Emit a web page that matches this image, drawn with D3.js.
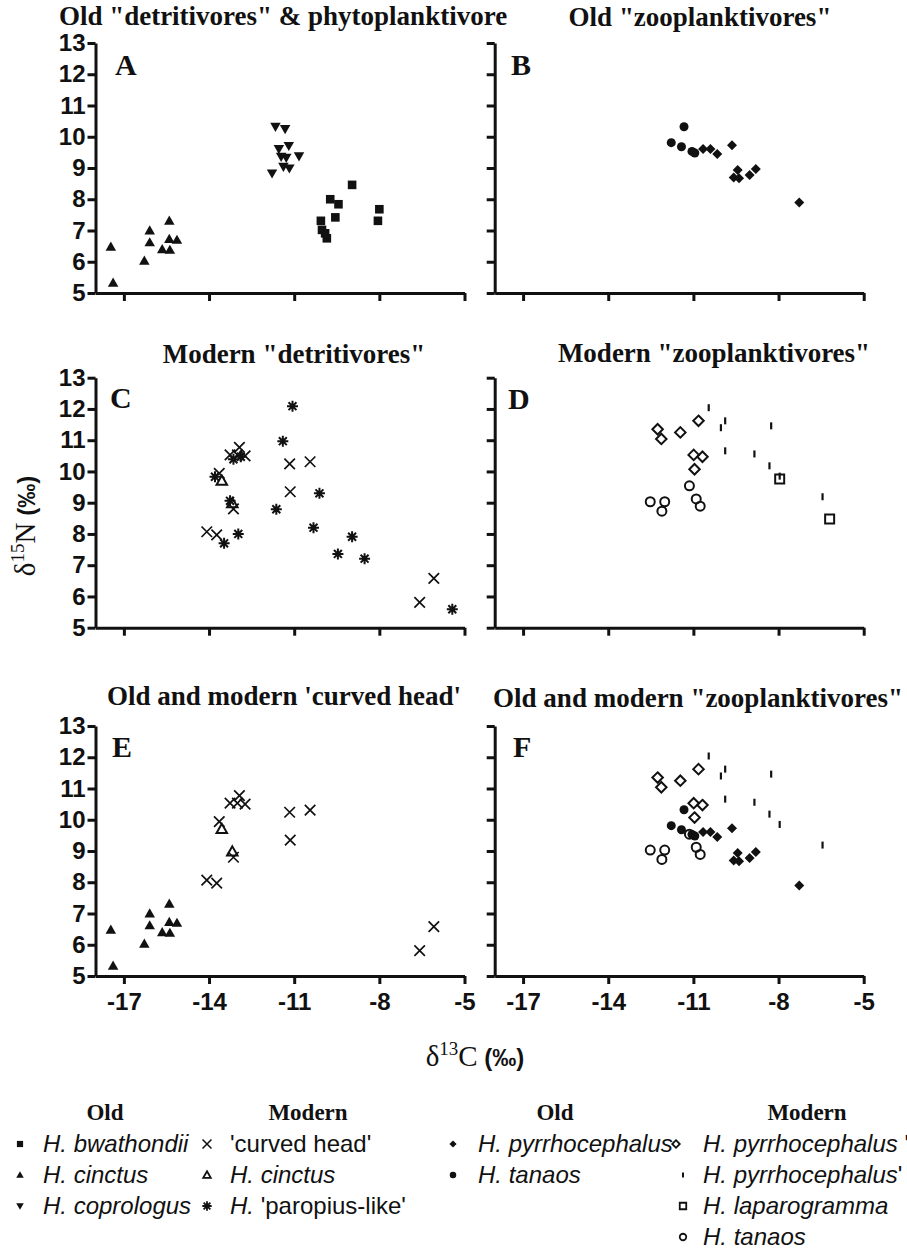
<!DOCTYPE html>
<html>
<head>
<meta charset="utf-8">
<script src="https://cdn.jsdelivr.net/npm/d3@7"></script>
<style>
body { margin: 0; background: #fff; }
.axis path, .axis line { stroke: #111; stroke-width: 3; }
.axis text { font-family: "Liberation Sans", Arial, sans-serif; font-weight: bold; font-size: 24px; fill: #111; }
.title { font-family: "Liberation Serif", "Times New Roman", serif; font-weight: bold; font-size: 27px; fill: #111; }
.letter { font-family: "Liberation Serif", "Times New Roman", serif; font-weight: bold; font-size: 30px; fill: #111; }
.leg { font-family: "Liberation Sans", Arial, sans-serif; font-size: 24px; fill: #111; }
.leghead { font-family: "Liberation Serif", "Times New Roman", serif; font-weight: bold; font-size: 23px; fill: #111; }
</style>
</head>
<body>
<svg id="fig"></svg>
<script>
// d13C, d15N pairs
const oldBwathondii = [[-10.06,7.31],[-10.02,7.02],[-9.91,6.91],[-9.85,6.75],[-9.73,8.0],[-9.44,7.84],[-9.55,7.42],[-8.96,8.46],[-8.0,7.68],[-8.05,7.31]];
const oldCinctus = [[-17.46,6.48],[-17.38,5.33],[-16.28,6.03],[-16.09,7.0],[-16.09,6.62],[-15.65,6.4],[-15.40,7.31],[-15.40,6.73],[-15.38,6.38],[-15.13,6.7]];
const oldCoprologus = [[-11.66,10.32],[-11.32,10.25],[-11.54,9.61],[-11.19,9.71],[-11.46,9.36],[-11.28,9.33],[-10.83,9.38],[-11.78,8.83],[-11.38,9.04],[-11.17,8.99]];
const oldPyrrho = [[-10.66,9.61],[-10.4,9.61],[-10.16,9.45],[-9.64,9.73],[-9.44,8.94],[-9.58,8.7],[-9.39,8.67],[-9.02,8.78],[-8.8,8.97],[-7.27,7.9]];
const oldTanaos = [[-11.33,10.32],[-11.78,9.81],[-11.42,9.68],[-11.05,9.53],[-10.95,9.48]];
const modCurved = [[-14.08,8.07],[-13.73,7.97],[-13.14,8.8],[-13.64,9.94],[-13.26,10.53],[-12.93,10.77],[-13.0,10.53],[-12.73,10.5],[-11.16,10.24],[-10.44,10.31],[-11.14,9.35],[-6.58,5.81],[-6.08,6.58]];
const modCinctus = [[-13.55,9.7],[-13.18,8.98]];
const modParopius = [[-11.06,12.09],[-11.4,10.97],[-13.79,9.83],[-13.26,9.06],[-13.14,10.39],[-12.88,10.47],[-12.97,8.0],[-13.47,7.7],[-11.63,8.79],[-10.11,9.3],[-10.32,8.2],[-9.46,7.36],[-8.96,7.91],[-8.52,7.21],[-5.43,5.59]];
const modPyrrhoA = [[-12.26,11.35],[-12.13,11.04],[-11.46,11.25],[-10.82,11.62],[-10.99,10.53],[-10.68,10.47],[-10.96,10.07]];
const modPyrrhoB = [[-10.46,12.04],[-9.88,11.62],[-10.03,11.4],[-8.26,11.46],[-9.88,10.66],[-8.85,10.56],[-8.32,10.18],[-7.96,9.85],[-6.45,9.19]];
const modLaparogramma = [[-7.96,9.76],[-6.2,8.48]];
const modTanaos = [[-11.14,9.54],[-12.52,9.03],[-12.01,9.03],[-12.11,8.73],[-10.9,9.12],[-10.76,8.89]];

const xTicks = [-17, -14, -11, -8, -5];
const yTicks = [5, 6, 7, 8, 9, 10, 11, 12, 13];

const titles = ['Old "detritivores" & phytoplanktivore', 'Old "zooplanktivores"',
  'Modern "detritivores"', 'Modern "zooplanktivores"',
  "Old and modern 'curved head'", 'Old and modern "zooplanktivores"'];
const letters = ['A', 'B', 'C', 'D', 'E', 'F'];
const panelSeries = [
  ['oldCinctus', 'oldCoprologus', 'oldBwathondii'],
  ['oldTanaos', 'oldPyrrho'],
  ['modCurved', 'modCinctus', 'modParopius'],
  ['modPyrrhoA', 'modPyrrhoB', 'modLaparogramma', 'modTanaos'],
  ['oldCinctus', 'modCurved', 'modCinctus'],
  ['oldTanaos', 'oldPyrrho', 'modPyrrhoA', 'modPyrrhoB', 'modTanaos']
];

const data = {oldBwathondii, oldCinctus, oldCoprologus, oldPyrrho, oldTanaos,
  modCurved, modCinctus, modParopius, modPyrrhoA, modPyrrhoB, modLaparogramma, modTanaos};

// custom marker shapes for d3.symbol
const shapes = {
  triUp: {draw(c, s) { const r = Math.sqrt(s) / 2; c.moveTo(0, -r); c.lineTo(r, r * 0.75); c.lineTo(-r, r * 0.75); c.closePath(); }},
  triDown: {draw(c, s) { const r = Math.sqrt(s) / 2; c.moveTo(0, r); c.lineTo(r, -r * 0.75); c.lineTo(-r, -r * 0.75); c.closePath(); }},
  square: {draw(c, s) { const r = Math.sqrt(s) / 2; c.rect(-r, -r, 2 * r, 2 * r); }},
  diamond: {draw(c, s) { const r = Math.sqrt(s) / 2; c.moveTo(0, -r); c.lineTo(r, 0); c.lineTo(0, r); c.lineTo(-r, 0); c.closePath(); }},
  circle: {draw(c, s) { const r = Math.sqrt(s) / 2; c.moveTo(r, 0); c.arc(0, 0, r, 0, 2 * Math.PI); }},
  cross: {draw(c, s) { const r = Math.sqrt(s) / 2; c.moveTo(-r, -r); c.lineTo(r, r); c.moveTo(-r, r); c.lineTo(r, -r); }},
  aster: {draw(c, s) { const r = Math.sqrt(s) / 2; const k = r * 0.72;
    c.moveTo(-r, 0); c.lineTo(r, 0); c.moveTo(0, -r); c.lineTo(0, r);
    c.moveTo(-k, -k); c.lineTo(k, k); c.moveTo(-k, k); c.lineTo(k, -k); }},
  tick: {draw(c, s) { const r = Math.sqrt(s) / 2; c.moveTo(0, -r); c.lineTo(0, r); }}
};

const style = {
  oldBwathondii: {shape: 'square', d: 8.6, fill: true},
  oldCinctus: {shape: 'triUp', d: 10.5, fill: true},
  oldCoprologus: {shape: 'triDown', d: 10.5, fill: true},
  oldPyrrho: {shape: 'diamond', d: 10, fill: true},
  oldTanaos: {shape: 'circle', d: 9, fill: true},
  modCurved: {shape: 'cross', d: 10.5, fill: false, sw: 1.7},
  modCinctus: {shape: 'triUp', d: 10.5, fill: false, sw: 2},
  modParopius: {shape: 'aster', d: 11, fill: false, sw: 2},
  modPyrrhoA: {shape: 'diamond', d: 10.5, fill: false, sw: 2},
  modPyrrhoB: {shape: 'tick', d: 7, fill: false, sw: 2.2},
  modLaparogramma: {shape: 'square', d: 9, fill: false, sw: 2},
  modTanaos: {shape: 'circle', d: 9, fill: false, sw: 2}
};

const W = 907, H = 1250;
const svg = d3.select('#fig').attr('width', W).attr('height', H);
svg.append('rect').attr('width', W).attr('height', H).attr('fill', '#fff');

const colX = [95.5, 494.7], rowY = [43, 377.7, 726];
const pw = 369, ph = 250;
const titlePos = [[283, 25], [700, 26], [294, 363], [714, 362], [284, 705], [698, 707]];
const letterPos = [[115, 75], [511, 75], [110, 408], [508, 409], [112, 757], [513, 757]];

function drawMarks(g, name, x, y) {
  const st = style[name];
  const sym = d3.symbol().type(shapes[st.shape]).size(st.d * st.d);
  g.selectAll(null)
    .data(data[name])
    .join('path')
    .attr('transform', p => `translate(${x(p[0])},${y(p[1])})`)
    .attr('d', sym)
    .attr('fill', st.fill ? '#111' : 'none')
    .attr('stroke', st.fill ? 'none' : '#111')
    .attr('stroke-width', st.sw || 0);
}

const fmt = d => String(d);  // plain hyphen minus, like the original

letters.forEach((L, i) => {
  const col = i % 2, row = Math.floor(i / 2);
  const g = svg.append('g').attr('transform', `translate(${colX[col]},${rowY[row]})`);
  const x = d3.scaleLinear().domain([-18, -5]).range([0, pw]);
  const y = d3.scaleLinear().domain([5, 13]).range([ph, 0]);

  g.append('g').attr('class', 'axis')
    .call(d3.axisLeft(y).tickValues(yTicks).tickSize(8).tickSizeOuter(0).tickPadding(2)
      .tickFormat(col === 0 ? fmt : ''));
  g.append('g').attr('class', 'axis')
    .attr('transform', `translate(0,${ph})`)
    .call(d3.axisBottom(x).tickValues(xTicks).tickSize(8).tickSizeOuter(0).tickPadding(9)
      .tickFormat(row === 2 ? fmt : ''));

  panelSeries[i].forEach(name => drawMarks(g, name, x, y));

  svg.append('text').attr('class', 'title')
    .attr('x', titlePos[i][0]).attr('y', titlePos[i][1])
    .attr('text-anchor', 'middle').text(titles[i]);
  svg.append('text').attr('class', 'letter')
    .attr('x', letterPos[i][0]).attr('y', letterPos[i][1]).text(L);
});

// axis titles
const serif = '"Liberation Serif", "Times New Roman", serif';
const sans = '"Liberation Sans", Arial, sans-serif';
const ylab = svg.append('text').attr('transform', 'translate(35,526) rotate(-90)')
  .attr('text-anchor', 'middle').attr('fill', '#111');
ylab.append('tspan').attr('font-family', serif).attr('font-size', 29).text('δ');
ylab.append('tspan').attr('font-family', serif).attr('font-size', 19).attr('dy', -11).text('15');
ylab.append('tspan').attr('font-family', serif).attr('font-size', 29).attr('dy', 11).text('N');
ylab.append('tspan').attr('font-family', sans).attr('font-weight', 'bold').attr('font-size', 24).text(' (‰)');

const xlab = svg.append('text').attr('x', 475).attr('y', 1066)
  .attr('text-anchor', 'middle').attr('fill', '#111');
xlab.append('tspan').attr('font-family', serif).attr('font-size', 29).text('δ');
xlab.append('tspan').attr('font-family', serif).attr('font-size', 19).attr('dy', -11).text('13');
xlab.append('tspan').attr('font-family', serif).attr('font-size', 29).attr('dy', 11).text('C');
xlab.append('tspan').attr('font-family', sans).attr('font-weight', 'bold').attr('font-size', 24).text(' (‰)');

// legend
const legendHeads = [['Old', 105], ['Modern', 308], ['Old', 555], ['Modern', 807]];
const legendItems = [
  {s: 'oldBwathondii', sx: 20, tx: 43, row: 0, label: [['H. bwathondii', true]]},
  {s: 'oldCinctus', sx: 20, tx: 43, row: 1, label: [['H. cinctus', true]]},
  {s: 'oldCoprologus', sx: 20, tx: 43, row: 2, label: [['H. coprologus', true]]},
  {s: 'modCurved', sx: 207, tx: 230, row: 0, label: [["'curved head'", false]]},
  {s: 'modCinctus', sx: 207, tx: 230, row: 1, label: [['H. cinctus', true]]},
  {s: 'modParopius', sx: 207, tx: 230, row: 2, label: [['H.', true], [" 'paropius-like'", false]]},
  {s: 'oldPyrrho', sx: 453, tx: 478, row: 0, label: [['H. pyrrhocephalus', true]]},
  {s: 'oldTanaos', sx: 453, tx: 478, row: 1, label: [['H. tanaos', true]]},
  {s: 'modPyrrhoA', sx: 676, tx: 703, row: 0, label: [['H. pyrrhocephalus', true], [" '", false]]},
  {s: 'modPyrrhoB', sx: 683, tx: 703, row: 1, label: [['H. pyrrhocephalus', true], ["'", false]]},
  {s: 'modLaparogramma', sx: 683, tx: 703, row: 2, label: [['H. laparogramma', true]]},
  {s: 'modTanaos', sx: 683, tx: 703, row: 3, label: [['H. tanaos', true]]}
];
const rowBase = [1152, 1183, 1214, 1245];

svg.selectAll('text.leghead').data(legendHeads).join('text').attr('class', 'leghead')
  .attr('x', d => d[1]).attr('y', 1120).attr('text-anchor', 'middle').text(d => d[0]);

const lg = svg.append('g');
legendItems.forEach(it => {
  const st = style[it.s];
  const d = st.d * (st.shape === 'aster' || st.shape === 'cross' ? 0.85 : 0.72);
  lg.append('path')
    .attr('transform', `translate(${it.sx},${rowBase[it.row] - 8})`)
    .attr('d', d3.symbol().type(shapes[st.shape]).size(d * d))
    .attr('fill', st.fill ? '#111' : 'none')
    .attr('stroke', st.fill ? 'none' : '#111')
    .attr('stroke-width', st.sw ? st.sw * 0.9 : 0);
  const t = lg.append('text').attr('class', 'leg').attr('x', it.tx).attr('y', rowBase[it.row]);
  it.label.forEach(p => t.append('tspan').attr('font-style', p[1] ? 'italic' : 'normal').text(p[0]));
});
</script>
</body>
</html>
